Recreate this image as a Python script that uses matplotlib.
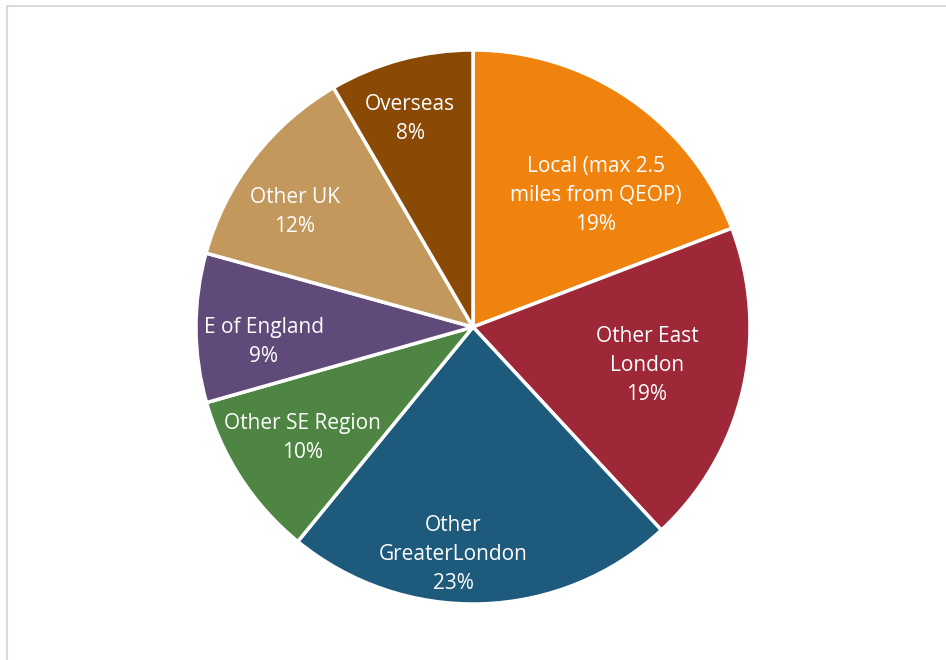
import matplotlib
matplotlib.use("Agg")
import matplotlib.pyplot as plt
from matplotlib.patches import Rectangle

categories = ["Local (max 2.5\nmiles from QEOP)", "Other East\nLondon", "Other\nGreaterLondon",
              "Other SE Region", "E of England", "Other UK", "Overseas"]
values = [19.2, 18.9, 22.8, 9.7, 8.7, 12.3, 8.4]
colors = ["#F0820E", "#9E2838", "#1D5A7C", "#4E8542", "#604A7A", "#C3985C", "#8A4A06"]
label_pos = [(0.444, 0.476), (0.628, -0.138), (-0.072, -0.820), (-0.617, -0.401),
             (-0.755, -0.055), (-0.643, 0.415), (-0.227, 0.750)]

plt.rcParams['font.family'] = ['Open Sans', 'DejaVu Sans']

fig = plt.figure(figsize=(9.46, 6.6), dpi=100)
# border
fig.patches.append(Rectangle((7/946, -0.1), 1.1, 1 - 6/660 + 0.1, transform=fig.transFigure,
                             fill=False, edgecolor="#D9D9D9", linewidth=1.5))

R = 277
cx, cy = 473, 327
ax = fig.add_axes([(cx - R) / 946, (660 - cy - R) / 660, 2 * R / 946, 2 * R / 660])
wedges, _ = ax.pie(values, colors=colors, startangle=90, counterclock=False, radius=1,
                   wedgeprops=dict(edgecolor="white", linewidth=2.5))
ax.set_xlim(-1, 1)
ax.set_ylim(-1, 1)
ax.set_aspect("equal")
ax.axis("off")

for cat, v, (x, y) in zip(categories, values, label_pos):
    ax.text(x, y, f"{cat}\n{round(v)}%", ha="center", va="center", color="white",
            fontsize=15, linespacing=1.5)

fig.savefig("out.png", dpi=100)
